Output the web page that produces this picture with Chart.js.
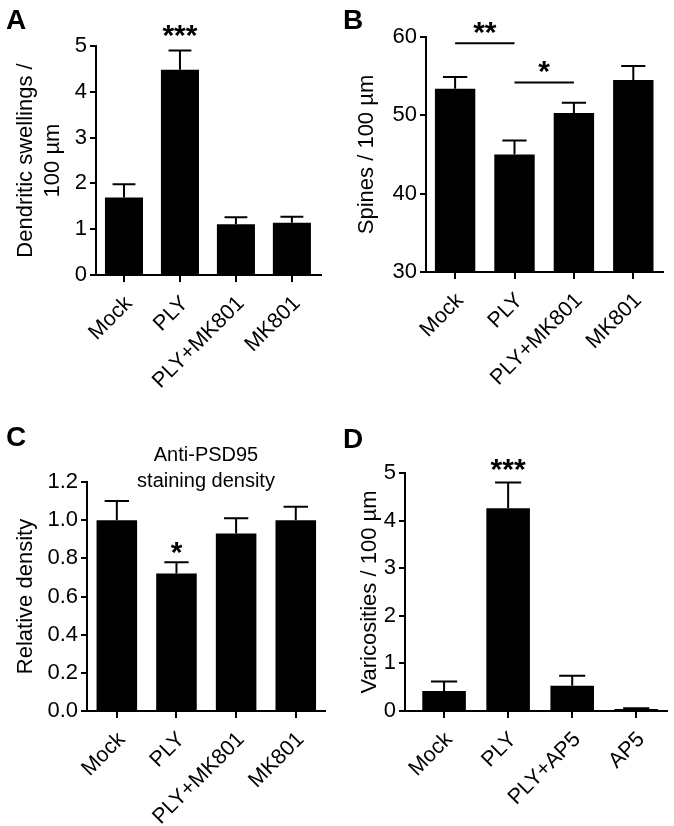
<!DOCTYPE html>
<html>
<head>
<meta charset="utf-8">
<script src="https://cdn.jsdelivr.net/npm/chart.js@4.4.0/dist/chart.umd.min.js"></script>
<style>
  body { margin: 0; background: #fff; }
  #wrap { position: relative; width: 674px; height: 826px; }
  canvas { position: absolute; }
</style>
</head>
<body>
<div id="wrap">
  <canvas id="cA" width="337" height="413" style="left:0;top:0"></canvas>
  <canvas id="cB" width="337" height="413" style="left:337px;top:0"></canvas>
  <canvas id="cC" width="337" height="413" style="left:0;top:413px"></canvas>
  <canvas id="cD" width="337" height="413" style="left:337px;top:413px"></canvas>
</div>
<script>
const groupsMK = ['Mock', 'PLY', 'PLY+MK801', 'MK801'];
const groupsAP5 = ['Mock', 'PLY', 'PLY+AP5', 'AP5'];

// means and SEM
const swellings = [1.69, 4.48, 1.11, 1.14];
const swellingsSem = [0.29, 0.42, 0.15, 0.13];
const swellingsStars = ['', '***', '', ''];

const spines = [53.4, 45.0, 50.3, 54.5];
const spinesSem = [1.5, 1.8, 1.3, 1.8];
// comparisons drawn as lines above the bars
const spinesBracketFrom = [0, 1];
const spinesBracketTo = [1, 2];
const spinesBracketY = [59.2, 54.2];
const spinesBracketLabel = ['**', '*'];

const psd95 = [1.00, 0.72, 0.93, 1.00];
const psd95Sem = [0.10, 0.06, 0.08, 0.07];
const psd95Stars = ['', '*', '', ''];

const varicosities = [0.42, 4.26, 0.53, 0.04];
const varicositiesSem = [0.20, 0.54, 0.21, 0.02];
const varicositiesStars = ['', '***', '', ''];

const FONT = "'Liberation Sans', Arial, Helvetica, sans-serif";
const STAR_SIZE = 30;

function panel(id, o) {
  // error bars, stars, brackets, panel letter, title
  const deco = {
    id: 'deco',
    afterDatasetsDraw(chart) {
      const { ctx, scales: { x, y } } = chart;
      const bars = chart.getDatasetMeta(0).data;
      ctx.save();
      ctx.strokeStyle = '#000';
      ctx.fillStyle = '#000';
      ctx.lineWidth = 2;
      ctx.font = 'bold ' + STAR_SIZE + 'px ' + FONT;
      ctx.textAlign = 'center';
      ctx.textBaseline = 'alphabetic';
      bars.forEach((bar, i) => {
        const top = y.getPixelForValue(o.values[i] + o.sem[i]);
        const half = bar.width * 0.3;
        ctx.beginPath();
        ctx.moveTo(bar.x, bar.y);
        ctx.lineTo(bar.x, top);
        ctx.moveTo(bar.x - half, top);
        ctx.lineTo(bar.x + half, top);
        ctx.stroke();
        if (o.stars && o.stars[i]) {
          ctx.fillText(o.stars[i], bar.x, top - o.starGap + 0.45 * STAR_SIZE);
        }
      });
      if (o.brackets) {
        const b = o.brackets;
        b.from.forEach((f, k) => {
          const x1 = x.getPixelForValue(f);
          const x2 = x.getPixelForValue(b.to[k]);
          const yy = y.getPixelForValue(b.y[k]);
          ctx.beginPath();
          ctx.moveTo(x1, yy);
          ctx.lineTo(x2, yy);
          ctx.stroke();
          ctx.fillText(b.label[k], (x1 + x2) / 2, yy - 15 + 0.45 * STAR_SIZE);
        });
      }
      ctx.font = 'bold 28px ' + FONT;
      ctx.textAlign = 'left';
      ctx.fillText(o.letter, 6, o.letterY);
      if (o.title) {
        ctx.font = '20px ' + FONT;
        ctx.textAlign = 'center';
        ctx.textBaseline = 'middle';
        o.title.forEach((t, k) => ctx.fillText(t, o.titleX, o.titleY + k * 26));
      }
      ctx.restore();
    }
  };

  return new Chart(document.getElementById(id), {
    type: 'bar',
    data: {
      datasets: [{
        data: o.values.map((v, i) => ({ x: i, y: v })),
        backgroundColor: '#000',
        barPercentage: 0.68,
        categoryPercentage: 1
      }]
    },
    options: {
      responsive: false,
      animation: false,
      layout: { padding: { top: o.top, right: o.right, left: 0, bottom: 0 } },
      plugins: { legend: { display: false }, tooltip: { enabled: false } },
      scales: {
        x: {
          type: 'linear',
          min: o.xMin,
          max: o.xMax,
          offset: false,
          afterBuildTicks: s => { s.ticks = o.labels.map((_, i) => ({ value: i })); },
          afterFit: s => { s.height = o.xHeight; },
          grid: { display: true, offset: false, drawOnChartArea: false, drawTicks: true, tickLength: 7, color: '#000', lineWidth: 2 },
          border: { display: true, color: '#000', width: 2 },
          ticks: {
            autoSkip: false, minRotation: 45, maxRotation: 45, padding: 9, labelOffset: 5,
            color: '#000', font: { family: FONT, size: 21.5 },
            callback: v => o.labels[v] ?? ''
          }
        },
        y: {
          min: o.yMin,
          max: o.yMax,
          afterFit: s => { s.width = o.yWidth; },
          grid: { display: true, drawOnChartArea: false, drawTicks: true, tickLength: 6, color: '#000', lineWidth: 2 },
          border: { display: true, color: '#000', width: 2 },
          ticks: {
            stepSize: o.step, padding: 3, color: '#000',
            font: { family: FONT, size: 22 },
            callback: o.fmt
          },
          title: {
            display: true, text: o.yTitle, color: '#000',
            font: { family: FONT, size: 22, lineHeight: 1.2 },
            padding: { top: o.titlePad, bottom: 0 }
          }
        }
      }
    },
    plugins: [deco]
  });
}

panel('cA', {
  labels: groupsMK, values: swellings, sem: swellingsSem, stars: swellingsStars, starGap: 19,
  yMin: 0, yMax: 5, step: 1, fmt: v => v,
  yTitle: ['Dendritic swellings /', '100 µm'], titlePad: 13,
  letter: 'A', letterY: 29,
  top: 46, right: 16, yWidth: 96, xHeight: 138, xMin: -0.5, xMax: 3.52
});

panel('cB', {
  labels: groupsMK, values: spines, sem: spinesSem,
  brackets: { from: spinesBracketFrom, to: spinesBracketTo, y: spinesBracketY, label: spinesBracketLabel },
  yMin: 30, yMax: 60, step: 10, fmt: v => v,
  yTitle: 'Spines / 100 µm', titlePad: 17,
  letter: 'B', letterY: 29,
  top: 37, right: 11, yWidth: 89, xHeight: 141, xMin: -0.49, xMax: 3.5
});

panel('cC', {
  labels: groupsMK, values: psd95, sem: psd95Sem, stars: psd95Stars, starGap: 14,
  yMin: 0, yMax: 1.2, step: 0.2, fmt: v => v.toFixed(1),
  yTitle: 'Relative density', titlePad: 13,
  letter: 'C', letterY: 33,
  title: ['Anti-PSD95', 'staining density'], titleX: 206, titleY: 42,
  top: 69, right: 12, yWidth: 87, xHeight: 115, xMin: -0.5, xMax: 3.49
});

panel('cD', {
  labels: groupsAP5, values: varicosities, sem: varicositiesSem, stars: varicositiesStars, starGap: 17,
  yMin: 0, yMax: 5, step: 1, fmt: v => v,
  yTitle: 'Varicosities / 100 µm', titlePad: 20,
  letter: 'D', letterY: 35,
  top: 60, right: 7, yWidth: 68, xHeight: 115, xMin: -0.61, xMax: 3.48
});
</script>
</body>
</html>
